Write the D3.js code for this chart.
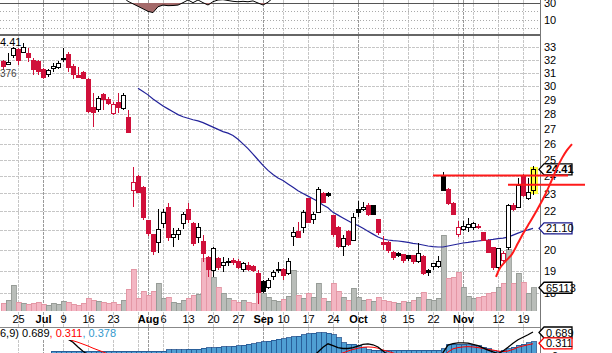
<!DOCTYPE html>
<html>
<head>
<meta charset="utf-8">
<script src="https://cdn.jsdelivr.net/npm/d3@7"></script>
<style>
  body { margin: 0; background: #fff; overflow: hidden; }
  text { font-family: "Liberation Sans", Arial, sans-serif; }
</style>
</head>
<body>
<script>
// 1. sizes
const w = 612, h = 353;
const plotRight = 540;
const firstIdx = -3;          // first candle sits 3 trading days before Jun 25

// 2. data, one entry per trading day from index -3 to 103
const open = [31.89,31.66,32.37, 32.85,32.61,32.53,31.97,31.89,31.27,30.88,31.35,31.42,32.13,
  32.45,31.50,30.81,31.04,30.51,28.47,28.33,29.40,29.04,28.05, 28.83,28.40,27.78,23.19,24.01,23.36,21.49,20.76,20.35,21.38,
  22.19,20.65,20.76,21.38,22.13,21.38,20.65,20.45,19.61,18.99, 19.56,19.27,19.46,19.51,19.46,19.08,19.27,19.22,18.85,18.48,
  18.25,18.71,19.08,19.04,18.85,20.70,20.96,21.12,22.69,21.59, 21.97,23.02,22.97,21.76,21.17,20.15,20.96,20.50,22.08,22.08,
  22.30,22.30,21.54,20.35,20.35,19.90,19.85,19.76,19.71,19.71, 19.42,19.66,18.99,19.18,19.22,24.07,23.25,22.46,20.76,21.06,
  21.17,21.12,21.22,20.86,20.50,20.10,19.13,19.51,20.10,22.35, 22.24,24.07,22.74,23.19];
const high = [31.97,32.53,33.02, 32.93,33.34,32.93,32.13,31.97,31.35,31.27,31.74,31.89,32.93,
  32.61,31.66,31.42,31.11,30.58,29.47,29.26,29.47,29.19,28.83, 29.47,29.47,28.26,24.55,24.07,23.42,21.54,20.81,22.13,22.13,
  22.46,21.12,21.12,21.97,22.46,21.43,21.38,20.76,19.71,20.15, 19.66,19.66,19.61,19.61,19.56,19.42,19.42,19.27,19.04,18.57,
  18.66,19.04,19.42,19.13,19.61,21.17,21.43,22.08,22.74,21.97, 23.36,23.08,23.08,21.81,21.22,20.76,21.01,21.92,22.57,22.52,
  22.46,22.35,21.59,20.70,20.45,19.95,19.90,19.80,19.76,19.76, 20.35,19.76,19.08,19.37,19.71,24.25,23.31,22.52,21.49,21.49,
  21.65,21.43,21.33,20.91,20.55,20.15,20.10,19.95,22.41,22.46, 23.89,24.13,23.89,24.62];
const low = [31.19,31.58,32.13, 31.58,32.53,31.81,30.81,30.81,30.51,30.66,31.04,31.27,31.81,
  31.04,30.51,30.58,30.51,28.05,27.10,28.12,28.26,28.62,27.92, 28.05,28.26,26.70,22.24,23.02,21.54,20.70,19.76,19.85,21.12,
  20.45,20.15,20.50,21.06,21.38,20.20,20.35,19.42,18.71,18.71, 19.04,18.94,19.22,19.27,19.08,18.94,18.99,18.94,17.50,17.98,
  18.16,18.57,18.89,18.57,18.80,20.20,20.60,20.86,21.38,21.33, 21.92,22.46,22.80,20.65,20.10,19.71,20.20,20.45,21.70,22.03,
  21.76,21.81,20.76,20.00,19.85,19.51,19.66,19.37,19.46,19.32, 19.37,18.80,18.76,19.04,19.13,23.14,22.35,21.81,20.65,20.96,
  20.91,21.01,21.06,20.45,19.85,19.04,19.08,19.42,20.00,22.03, 22.19,22.80,22.63,22.91];
const close = [31.50,31.81,32.93, 31.97,33.02,32.21,31.27,31.11,30.66,31.19,31.50,31.74,32.05,
  31.42,30.88,30.66,30.58,28.19,28.12,29.11,29.04,28.76,28.69, 28.47,29.33,26.77,23.65,23.08,21.65,20.81,19.95,21.06,21.92,
  20.65,20.76,21.01,21.81,21.54,20.30,21.17,19.85,19.04,20.05, 19.13,19.37,19.42,19.37,19.13,19.32,19.04,18.99,18.00,18.07,
  18.57,18.94,18.99,18.76,19.42,20.91,20.65,21.97,21.43,21.86, 23.25,22.52,22.86,20.76,20.15,20.60,20.25,21.65,21.97,22.24,
  21.81,21.86,20.86,20.28,20.00,19.61,19.71,19.51,19.56,19.42, 19.85,18.89,18.94,19.32,19.46,23.19,22.46,21.86,21.12,21.22,
  21.28,21.33,21.17,20.50,19.90,19.13,20.05,19.85,22.35,22.13, 23.48,22.91,23.08,24.41];
const volume = [22400,30800,72800, 25200,22400,19600,22400,25200,19600,16800,22400,19600,28000,
  25200,19600,16800,22400,36400,30800,28000,25200,22400,25200, 19600,30800,61600,117600,36400,56000,44800,56000,78400,36400,
  39200,25200,22400,30800,36400,44800,47600,148400,120400,95200, 67200,50400,36400,30800,25200,30800,25200,22400,58800,50400,
  39200,30800,28000,33600,42000,114800,44800,36400,50400,39200, 78400,36400,28000,78400,56000,39200,30800,64400,39200,30800,
  33600,28000,39200,30800,28000,25200,22400,28000,25200,30800, 39200,53200,33600,30800,36400,212800,92400,95200,109200,67200,
  42000,36400,39200,42000,50400,53200,67200,78400,173600,78400, 106400,81200,50400,65113];

// 50-day moving average, from index 24 to 103
const maStart = 24;
const ma50 = [29.84,29.6,29.35,29.05,28.8,28.55,28.35,28.15,27.95,27.8,
  27.7,27.6,27.52,27.4,27.25,27.1,26.95,26.8,26.7,26.55,
  26.3,26.0,25.7,25.35,25.0,24.65,24.35,24.1,23.9,23.75,
  23.55,23.35,23.15,23.0,22.85,22.7,22.55,22.35,22.2,21.95,
  21.8,21.65,21.5,21.35,21.25,21.1,20.95,20.8,20.65,20.55,
  20.5,20.47,20.45,20.42,20.38,20.33,20.3,20.25,20.2,20.17,
  20.15,20.15,20.2,20.25,20.3,20.35,20.38,20.42,20.45,20.48,
  20.5,20.53,20.57,20.6,20.65,20.75,20.85,20.95,21.02,21.10];

// RSI strip at the top (only the part that shows), from index 18 to 54
const rsiStart = 18;
const rsi = [45,42,40,37,32,29,26,23,20,18.5,25.5,27.5,26.8,27,27.5,30.4,33.6,30.4,33.6,30.4,
  27.6,31.6,33.6,34,33,32,31.5,32,31.5,32.5,30,27.6,31,36,42,40,45];

// MACD panel, index -3 to 103
const macd = [0.55,0.55,0.54,0.53,0.52,0.51,0.50,0.49,
  0.48,0.47,0.47,0.47,0.47,0.46,
  0.36,0.21,0.07,-0.04,-0.2,-0.3,-0.38,-0.45,-0.5,-0.55,
  -0.56,-0.65,-0.95,-1.2,-1.45,-1.7,-1.9,-1.95,-1.95,-2.0,
  -2.0,-1.98,-1.9,-1.85,-1.85,-1.8,-1.85,-1.9,-1.85,-1.8,
  -1.75,-1.7,-1.65,-1.6,-1.55,-1.5,-1.45,-1.45,-1.45,-1.4,
  -1.3,-1.2,-1.1,-1.0,-0.8,-0.6,-0.4,-0.25,-0.1,0.05,
  0.2,0.31,0.25,0.19,0.16,0.16,0.19,0.24,0.29,0.31,
  0.28,0.21,0.08,-0.05,-0.12,-0.18,-0.24,-0.28,-0.32,-0.34,
  -0.38,-0.41,-0.4,-0.35,0.03,0.27,0.32,0.34,0.34,0.33,
  0.29,0.25,0.18,0.11,0.05,0.0,0.08,0.2,0.33,0.44,
  0.52,0.6,0.689];
const signal = [0.5,0.5,0.5,0.49,0.49,0.48,0.48,0.48,
  0.48,0.47,0.47,0.47,0.46,0.45,
  0.41,0.36,0.3,0.24,0.17,0.11,0.05,-0.02,-0.1,-0.17,
  -0.24,-0.3,-0.4,-0.5,-0.6,-0.72,-0.84,-0.95,-1.05,-1.15,
  -1.25,-1.32,-1.38,-1.43,-1.47,-1.5,-1.53,-1.56,-1.58,-1.6,
  -1.6,-1.6,-1.6,-1.59,-1.58,-1.56,-1.54,-1.52,-1.5,-1.48,
  -1.45,-1.4,-1.35,-1.28,-1.2,-1.1,-0.98,-0.85,-0.7,-0.55,
  -0.4,-0.25,-0.1,-0.03,0.02,0.08,0.13,0.17,0.2,0.21,
  0.2,0.17,0.11,0.07,0.02,-0.03,-0.08,-0.12,-0.16,-0.2,
  -0.23,-0.26,-0.28,-0.28,-0.15,0.05,0.15,0.19,0.21,0.22,
  0.21,0.19,0.16,0.13,0.11,0.08,0.06,0.08,0.13,0.2,
  0.24,0.28,0.311];
const hist = [-0.06,-0.06,-0.05,-0.05,-0.04,-0.04,-0.03,-0.02,-0.01,0.0,
  0.07,0.08,0.08,0.08,0.08,0.08,0.08,0.08,0.08,0.08,
  0.08,0.08,0.08,0.08,0.08,0.08,0.08,0.08,0.08,0.08,
  0.08,0.08,0.08,0.12,0.12,0.12,0.12,0.13,0.13,0.14,
  0.17,0.18,0.19,0.2,0.21,0.22,0.23,0.25,0.27,0.29,
  0.31,0.34,0.37,0.4,0.43,0.45,0.47,0.5,0.53,0.56,
  0.6,0.63,0.65,0.66,0.66,0.65,0.6,0.5,0.35,0.3,
  0.3,0.25,0.18,0.12,0.1,0.1,0.1,0.1,0.1,0.1,
  0.1,0.1,0.1,0.1,0.1,0.1,0.1,0.1,0.15,0.28,
  0.3,0.3,0.3,0.28,0.27,0.25,0.2,0.15,0.1,0.08,
  0.1,0.15,0.2,0.26,0.3,0.34,0.378];

// axis ticks
const tickIdx    = [0,5,9,14,19,26,29,34,39,44,49,53,58,63,68,73,78,83,89,96,101];
const tickLabels = ["25","Jul","9","16","23","Aug","6","13","20","27","Sep","10","17","24","Oct","8","15","22","Nov","12","19"];
const monthNames = ["Jul","Aug","Sep","Oct","Nov"];
const weekIdx  = [0,5,9,14,19,24,29,34,39,44,49,53,58,63,68,73,78,83,88,91,96,101];
const monthIdx = [5,26,49,68,89];
const priceTicks = [33,32,31,30,29,28,27,26,25,24,23,22,21,20,19,18];

// hand-drawn red annotations, in (index, price)
const resistance = [
  {from: 83, to: 110, price: 24.04},
  {from: 98, to: 113.4, price: 23.5}
];
const trendCurve = [[95.6,18.71],[96.4,19.13],[97.4,19.42],[98.8,19.80],[100,20.35],[101.2,20.91],
  [102.4,21.43],[103.8,22.08],[105.2,22.80],[106.4,23.54],[107.6,24.37],[108.8,25.10],[109.8,25.60],[110.8,25.99]];

// 3. scales
const x = d3.scaleLinear().domain([0, 101]).range([18, 523]);
const y = d3.scaleLog().domain([20, 30]).range([250, 86]);
const yVol = d3.scaleLinear().domain([0, 280000]).range([311, 211]);
const yRsi = d3.scaleLinear().domain([0, 30]).range([28, 3]);
const yMacd = d3.scaleLinear().domain([0, 0.689]).range([353.5, 332]);

const red = "#d0103a";
const idx = d3.range(open.length).map(k => k + firstIdx);

// 4. svg
const svg = d3.select("body").append("svg")
  .attr("width", w).attr("height", h)
  .style("display", "block");
svg.append("rect").attr("width", w).attr("height", h).attr("fill", "#fff");

const defs = svg.append("defs");
defs.append("clipPath").attr("id", "pricePanel")
  .append("rect").attr("x", 0).attr("y", 36).attr("width", plotRight).attr("height", 275);
defs.append("clipPath").attr("id", "topPanel")
  .append("rect").attr("x", 0).attr("y", 0).attr("width", plotRight).attr("height", 35);
defs.append("clipPath").attr("id", "macdPanel")
  .append("rect").attr("x", 0).attr("y", 328).attr("width", plotRight).attr("height", 30);

// 5. grid
const grid = svg.append("g").attr("shape-rendering", "crispEdges");
grid.selectAll(".vg").data(weekIdx).enter().append("line")
  .attr("x1", d => Math.round(x(d)) + 0.5).attr("x2", d => Math.round(x(d)) + 0.5)
  .attr("y1", 0).attr("y2", h)
  .attr("stroke", "#c6c6c6").attr("stroke-dasharray", "3,1");
grid.selectAll(".mg").data(monthIdx).enter().append("line")
  .attr("x1", d => Math.round(x(d)) + 0.5).attr("x2", d => Math.round(x(d)) + 0.5)
  .attr("y1", 0).attr("y2", h)
  .attr("stroke", "#9a9a9a").attr("stroke-dasharray", "3,1");
grid.selectAll(".hg").data(priceTicks).enter().append("line")
  .attr("x1", 0).attr("x2", plotRight)
  .attr("y1", d => Math.round(y(d)) + 0.5).attr("y2", d => Math.round(y(d)) + 0.5)
  .attr("stroke", "#c6c6c6").attr("stroke-dasharray", "3,1");
grid.selectAll(".rg").data([20, 10, 0]).enter().append("line")
  .attr("x1", 0).attr("x2", plotRight)
  .attr("y1", d => Math.round(yRsi(d)) + 0.5).attr("y2", d => Math.round(yRsi(d)) + 0.5)
  .attr("stroke", "#aaa").attr("stroke-dasharray", "1,2");

// 6. volume bars
const pricePanel = svg.append("g").attr("clip-path", "url(#pricePanel)");
const isRed = k => k === 0 ? close[k] < open[k] : close[k] < close[k - 1];
pricePanel.selectAll(".vol").data(idx).enter().append("rect")
  .attr("x", (d, k) => Math.round(x(d)) - 2)
  .attr("y", (d, k) => yVol(volume[k]))
  .attr("width", 5)
  .attr("height", (d, k) => 311 - yVol(volume[k]))
  .attr("fill", (d, k) => isRed(k) ? "#f3b6c3" : "#b9bdb9")
  .attr("stroke", (d, k) => isRed(k) ? "#e0909e" : "#8f948f")
  .attr("stroke-width", 0.8)
  .attr("shape-rendering", "crispEdges");

// 7. moving average
pricePanel.append("path")
  .datum(ma50)
  .attr("fill", "none").attr("stroke", "#23239a").attr("stroke-width", 1.2)
  .attr("d", d3.line().x((d, k) => x(k + maStart)).y(d => y(d)));

// highlight of the last candle
const lastK = open.length - 1;
pricePanel.append("rect")
  .attr("x", Math.round(x(idx[lastK])) - 3).attr("width", 8)
  .attr("y", y(high[lastK]) + 1).attr("height", y(low[lastK]) - y(high[lastK]) - 2)
  .attr("fill", "#ffff3c");

// 8. candles
const candles = pricePanel.selectAll(".candle").data(idx).enter().append("g")
  .attr("shape-rendering", "crispEdges");
candles.append("line")
  .attr("x1", d => Math.round(x(d)) + 0.5).attr("x2", d => Math.round(x(d)) + 0.5)
  .attr("y1", (d, k) => y(high[k])).attr("y2", (d, k) => y(low[k]))
  .attr("stroke", (d, k) => isRed(k) ? red : "#000");
candles.append("rect")
  .attr("x", d => Math.round(x(d)) - 1.5)
  .attr("width", 4)
  .attr("y", (d, k) => y(Math.max(open[k], close[k])))
  .attr("height", (d, k) => Math.max(1, y(Math.min(open[k], close[k])) - y(Math.max(open[k], close[k]))))
  .attr("fill", (d, k) => close[k] >= open[k] ? (k === lastK ? "#ffff3c" : "#fff") : (isRed(k) ? red : "#000"))
  .attr("stroke", (d, k) => isRed(k) ? red : "#000");

// 9. panel borders
const borders = svg.append("g").attr("shape-rendering", "crispEdges");
borders.append("line").attr("x1", 0).attr("x2", plotRight).attr("y1", 3.5).attr("y2", 3.5)
  .attr("stroke", "#555");
borders.append("line").attr("x1", 0).attr("x2", plotRight).attr("y1", 35).attr("y2", 35)
  .attr("stroke", "#666").attr("stroke-width", 2);
borders.append("line").attr("x1", 0).attr("x2", plotRight).attr("y1", 327.5).attr("y2", 327.5)
  .attr("stroke", "#888");
borders.append("line").attr("x1", plotRight + 0.5).attr("x2", plotRight + 0.5).attr("y1", 0).attr("y2", h)
  .attr("stroke", "#777");

// 10. RSI strip
const rsiPanel = svg.append("g").attr("clip-path", "url(#topPanel)");
rsiPanel.append("path").datum(rsi)
  .attr("fill", "#a46a6a")
  .attr("d", d3.area().x((d, k) => x(k + rsiStart)).y0(yRsi(30)).y1(d => yRsi(Math.min(d, 30))));
rsiPanel.append("path").datum(rsi)
  .attr("fill", "none").attr("stroke", "#000").attr("stroke-width", 1)
  .attr("d", d3.line().x((d, k) => x(k + rsiStart)).y(d => yRsi(d)));

// 11. MACD panel
const mp = svg.append("g").attr("clip-path", "url(#macdPanel)");
mp.selectAll(".hist").data(idx).enter().append("rect")
  .attr("x", d => Math.round(x(d)) - 2).attr("width", 5)
  .attr("y", (d, k) => Math.min(yMacd(hist[k]), yMacd(0)))
  .attr("height", (d, k) => Math.abs(yMacd(hist[k]) - yMacd(0)))
  .attr("fill", "#4f9fd3").attr("stroke", "#1f4f8c").attr("stroke-width", 0.8)
  .attr("shape-rendering", "crispEdges");
mp.append("path").datum(signal)
  .attr("fill", "none").attr("stroke", "#ff0000").attr("stroke-width", 1)
  .attr("d", d3.line().x((d, k) => x(k + firstIdx)).y(d => yMacd(d)));
mp.append("path").datum(macd)
  .attr("fill", "none").attr("stroke", "#000").attr("stroke-width", 1.3)
  .attr("d", d3.line().x((d, k) => x(k + firstIdx)).y(d => yMacd(d)));
svg.append("rect").attr("x", 0).attr("y", 328).attr("width", 136).attr("height", 12).attr("fill", "#fff");
const mt = svg.append("text").attr("x", 0).attr("y", 337).attr("font-size", 11);
mt.append("tspan").attr("fill", "#000").text("6,9) " + macd[lastK].toFixed(3));
mt.append("tspan").attr("fill", "#ff0000").text(", " + signal[lastK].toFixed(3));
mt.append("tspan").attr("fill", "#3399cc").text(", " + hist[lastK].toFixed(3));

// 12. axes
const rightAxis = d3.axisRight(y).tickValues(priceTicks).tickSize(0).tickPadding(4).tickFormat(d3.format("d"));
svg.append("g").attr("transform", "translate(" + plotRight + ",0)").call(rightAxis)
  .call(g => g.select(".domain").remove())
  .selectAll("text").attr("font-size", 11).attr("fill", "#000").attr("font-family", "Liberation Sans, Arial");

const rsiAxis = d3.axisRight(yRsi).tickValues([30, 10]).tickSize(0).tickPadding(4);
svg.append("g").attr("transform", "translate(" + plotRight + ",0)").call(rsiAxis)
  .call(g => g.select(".domain").remove())
  .selectAll("text").attr("font-size", 11).attr("fill", "#000").attr("font-family", "Liberation Sans, Arial");

const bottomAxis = d3.axisBottom(x).tickValues(tickIdx).tickSize(0).tickPadding(4)
  .tickFormat((d, i) => tickLabels[i]);
svg.append("g").attr("transform", "translate(0,311)").call(bottomAxis)
  .call(g => g.select(".domain").remove())
  .selectAll("text")
  .attr("font-size", 11).attr("fill", "#000").attr("font-family", "Liberation Sans, Arial")
  .attr("font-weight", d => monthNames.includes(tickLabels[tickIdx.indexOf(d)]) ? "bold" : "normal");

// top-left readouts
svg.append("text").attr("x", 0).attr("y", 46).attr("font-size", 11).text(close[lastK].toFixed(2).slice(1));
svg.append("text").attr("x", 0).attr("y", 77).attr("font-size", 10).attr("fill", "#444").text("376");

// 13. value tags on the right
function tag(yc, label, stroke, bold) {
  const g = svg.append("g");
  g.append("path")
    .attr("d", `M${plotRight - 1},${yc} L${plotRight + 4},${yc - 5.5} L${plotRight + 32},${yc - 5.5} L${plotRight + 32},${yc + 5.5} L${plotRight + 4},${yc + 5.5} Z`)
    .attr("fill", "#fff").attr("stroke", stroke).attr("stroke-width", 1.3);
  g.append("text").attr("x", plotRight + 6).attr("y", yc + 4)
    .attr("font-size", 11).attr("font-weight", bold ? "bold" : "normal").attr("fill", "#000")
    .text(label);
}
tag(y(close[lastK]), close[lastK].toFixed(2), "#000", true);
tag(y(ma50[ma50.length - 1]), ma50[ma50.length - 1].toFixed(2), "#1a1a8c", false);
tag(yVol(volume[lastK]), String(volume[lastK]), "#000", false);
tag(yMacd(macd[lastK]) + 0.5, macd[lastK].toFixed(3), "#000", false);
tag(yMacd(signal[lastK]) - 0.5, signal[lastK].toFixed(3), "#ff0000", false);
svg.append("text").attr("x", plotRight + 12).attr("y", 360).attr("font-size", 11).text("0");

// 14. red annotations
const ann = svg.append("g");
ann.selectAll(".res").data(resistance).enter().append("line")
  .attr("x1", d => x(d.from)).attr("x2", d => x(d.to))
  .attr("y1", d => y(d.price)).attr("y2", d => y(d.price))
  .attr("stroke", "#ff1a1a").attr("stroke-width", 2);
ann.append("path").datum(trendCurve)
  .attr("fill", "none").attr("stroke", "#ff1a1a").attr("stroke-width", 2)
  .attr("d", d3.line().curve(d3.curveCatmullRom).x(d => x(d[0])).y(d => y(d[1])));
</script>
</body>
</html>
